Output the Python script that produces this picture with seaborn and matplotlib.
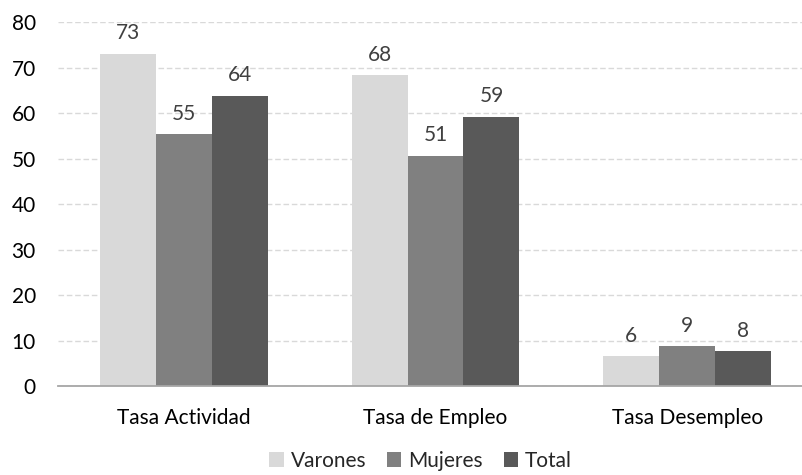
import matplotlib
matplotlib.use("Agg")
import matplotlib.pyplot as plt
import seaborn as sns
import pandas as pd
from matplotlib.patches import Patch

# Labour-market rates by sex (%)
indicadores = ["Tasa Actividad", "Tasa de Empleo", "Tasa Desempleo"]
varones = [73.1, 68.4, 6.5]
mujeres = [55.4, 50.7, 8.8]
total = [63.9, 59.2, 7.6]
series = ["Varones", "Mujeres", "Total"]
colores = ["#d9d9d9", "#808080", "#595959"]
y_ticks = [0, 10, 20, 30, 40, 50, 60, 70, 80]

df = pd.DataFrame({
    "indicador": indicadores * 3,
    "sexo": [s for s in series for _ in indicadores],
    "valor": varones + mujeres + total,
})

sns.set_theme(style="white")
plt.rcParams["font.family"] = ["Lato", "DejaVu Sans"]

fig = plt.figure(figsize=(8.03, 4.75), dpi=100)
ax = fig.add_axes([0.0722, 0.1874, 1.0125 - 0.0722, 0.953 - 0.1874])

sns.barplot(data=df, x="indicador", y="valor", hue="sexo",
            order=indicadores, hue_order=series, palette=colores,
            width=0.667, gap=0, ax=ax, legend=False,
            edgecolor="none", linewidth=0)

for cont in ax.containers:
    ax.bar_label(cont, fmt="{:.0f}", padding=7.5, fontsize=15, color="#404040")

ax.set_ylim(0, 80)
ax.set_xlim(-0.5, 2.5)
ax.set_yticks(y_ticks)
ax.set_xlabel("")
ax.set_ylabel("")

ax.yaxis.grid(True, linestyle=(0, (4, 2)), color="#d9d9d9", linewidth=1)
ax.set_axisbelow(True)

for side in ["left", "right", "top"]:
    ax.spines[side].set_visible(False)
ax.spines["bottom"].set_color("#a6a6a6")
ax.spines["bottom"].set_linewidth(1.3)

ax.tick_params(axis="y", length=0, pad=16, labelsize=15, labelcolor="#000000")
ax.tick_params(axis="x", which="major", length=0, pad=16, labelsize=15,
               labelcolor="#000000")
ax.set_xticks([-0.5, 0.5, 1.5, 2.5], minor=True)
ax.tick_params(axis="x", which="minor", length=4.5, width=1.3,
               color="#a6a6a6", direction="out")

handles = [Patch(facecolor=c, edgecolor="none") for c in colores]
fig.legend(handles, series, loc="center", bbox_to_anchor=(0.524, 0.03),
           ncol=3, frameon=False, fontsize=15, handlelength=0.68,
           handleheight=0.68, handletextpad=0.34, columnspacing=1.0,
           borderpad=0)

fig.savefig("out.png", dpi=100)
